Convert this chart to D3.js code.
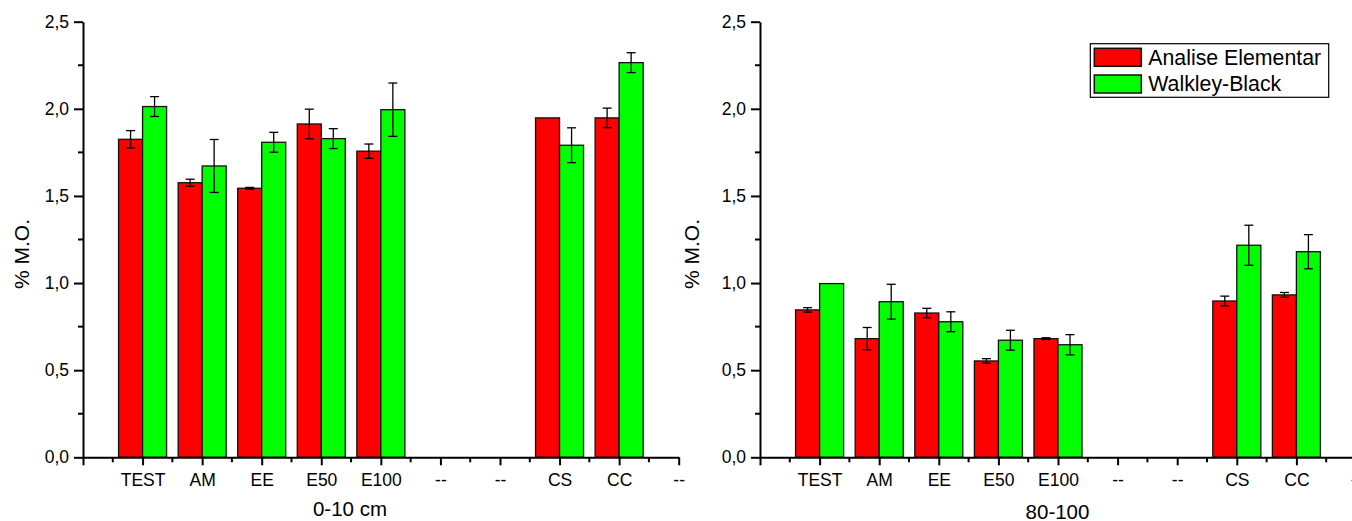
<!DOCTYPE html>
<html>
<head>
<meta charset="utf-8">
<script src="https://cdn.jsdelivr.net/npm/d3@7"></script>
<style>
  html, body { margin: 0; padding: 0; background: #fff; }
  svg { display: block; font-family: "Liberation Sans", Arial, sans-serif; }
</style>
</head>
<body>
<svg id="chart" width="1352" height="521"></svg>
<script>
// ---- data ----
const categories = ["TEST", "AM", "EE", "E50", "E100", "--", "--", "CS", "CC", "--"];
const seriesNames = ["Analise Elementar", "Walkley-Black"];
const yTicks = [0, 0.5, 1.0, 1.5, 2.0, 2.5];

// 0-10 cm
const ae0 = [1.825, 1.576, 1.544, 1.913, 1.757, null, null, 1.948, 1.948, null];
const ae0Err = [0.05, 0.02, 0.005, 0.085, 0.041, null, null, 0, 0.056, null];
const wb0 = [2.013, 1.672, 1.808, 1.829, 1.995, null, null, 1.791, 2.265, null];
const wb0Err = [0.057, 0.152, 0.057, 0.057, 0.153, null, null, 0.1, 0.057, null];

// 80-100
const ae80 = [0.846, 0.681, 0.828, 0.553, 0.681, null, null, 0.897, 0.932, null];
const ae80Err = [0.013, 0.064, 0.027, 0.013, 0.005, null, null, 0.028, 0.014, null];
const wb80 = [0.997, 0.893, 0.778, 0.672, 0.646, null, null, 1.217, 1.180, null];
const wb80Err = [0, 0.1, 0.057, 0.057, 0.058, null, null, 0.115, 0.098, null];

const colors = ["#ff0000", "#00ff00"];

const svg = d3.select("#chart");
const fmt = v => d3.format(".1f")(v).replace(".", ",");

function panel(opts) {
  const x = d3.scaleLinear().domain([0, 10]).range([opts.x0, opts.x1]);
  const y = d3.scaleLinear().domain([0, 2.5]).range([457.3, 21.7]);
  const g = svg.append("g");
  const bw = x(0.403) - x(0);

  const series = [
    { vals: opts.ae, errs: opts.aeErr, off: -1, color: colors[0] },
    { vals: opts.wb, errs: opts.wbErr, off: 0, color: colors[1] }
  ];

  series.forEach(s => {
    const data = s.vals.map((v, i) => ({ i: i + 1, v, e: s.errs[i] })).filter(d => d.v != null);
    g.selectAll(null).data(data).enter().append("rect")
      .attr("x", d => x(d.i) + s.off * bw)
      .attr("width", bw)
      .attr("y", d => y(d.v))
      .attr("height", d => y(0) - y(d.v))
      .attr("fill", s.color)
      .attr("stroke", "#111")
      .attr("stroke-width", 1.3);
    const eb = data.filter(d => d.e > 0);
    const cx = d => x(d.i) + s.off * bw + bw / 2;
    g.selectAll(null).data(eb).enter().append("line")
      .attr("x1", cx).attr("x2", cx)
      .attr("y1", d => y(d.v + d.e)).attr("y2", d => y(d.v - d.e))
      .attr("stroke", "#000").attr("stroke-width", 1.3);
    [1, -1].forEach(sg => {
      g.selectAll(null).data(eb).enter().append("line")
        .attr("x1", d => cx(d) - 4.5).attr("x2", d => cx(d) + 4.5)
        .attr("y1", d => y(d.v + sg * d.e)).attr("y2", d => y(d.v + sg * d.e))
        .attr("stroke", "#000").attr("stroke-width", 1.3);
    });
  });

  // x axis
  const xMajor = d3.range(0, 11);
  const xAxis = d3.axisBottom(x).tickValues(xMajor)
    .tickFormat(d => d === 0 ? "" : categories[d - 1])
    .tickSize(8).tickSizeOuter(0).tickPadding(8);
  const gx = g.append("g").attr("transform", `translate(0,${y(0)})`).call(xAxis);
  const xMinor = d3.range(0.5, 10, 1);
  gx.selectAll(".minor").data(xMinor).enter().append("line")
    .attr("x1", d => x(d)).attr("x2", d => x(d)).attr("y1", 0).attr("y2", 5)
    .attr("stroke", "#000").attr("stroke-width", 2);

  // y axis
  const yAxis = d3.axisLeft(y).tickValues(yTicks).tickFormat(fmt)
    .tickSize(9).tickSizeOuter(0).tickPadding(5);
  const gy = g.append("g").attr("transform", `translate(${opts.x0},0)`).call(yAxis);
  const yMinor = [0.25, 0.75, 1.25, 1.75, 2.25];
  gy.selectAll(".minor").data(yMinor).enter().append("line")
    .attr("x1", 0).attr("x2", -5).attr("y1", d => y(d)).attr("y2", d => y(d))
    .attr("stroke", "#000").attr("stroke-width", 2);

  [gx, gy].forEach(a => {
    a.select(".domain").attr("stroke", "#000").attr("stroke-width", 2);
    a.selectAll(".tick line").attr("stroke", "#000").attr("stroke-width", 2);
    a.selectAll(".tick text").attr("fill", "#000")
      .style("font-size", "17.5px").style("font-family", '"Liberation Sans", Arial, sans-serif');
  });

  // axis titles
  g.append("text")
    .attr("x", opts.titleX).attr("y", opts.titleY)
    .attr("text-anchor", "middle")
    .style("font-size", "20.5px")
    .text(opts.xTitle);
  g.append("text")
    .attr("transform", `translate(${opts.yTitleX},254) rotate(-90)`)
    .attr("text-anchor", "middle")
    .style("font-size", "21px")
    .text("% M.O.");
}

panel({ x0: 83, x1: 678.7, ae: ae0, aeErr: ae0Err, wb: wb0, wbErr: wb0Err,
        xTitle: "0-10 cm", titleX: 350, titleY: 516, yTitleX: 29.3 });
panel({ x0: 760, x1: 1356, ae: ae80, aeErr: ae80Err, wb: wb80, wbErr: wb80Err,
        xTitle: "80-100", titleX: 1057.5, titleY: 519, yTitleX: 699.3 });

// legend
const lg = svg.append("g");
lg.append("rect").attr("x", 1090.3).attr("y", 43.7).attr("width", 238.4).attr("height", 53.6)
  .attr("fill", "#fff").attr("stroke", "#000").attr("stroke-width", 1.2);
seriesNames.forEach((n, i) => {
  lg.append("rect").attr("x", 1094.3).attr("y", i === 0 ? 48.3 : 75)
    .attr("width", 47).attr("height", 18)
    .attr("fill", colors[i]).attr("stroke", "#111").attr("stroke-width", 1.5);
  lg.append("text").attr("x", 1148.3).attr("y", i === 0 ? 65.3 : 91)
    .style("font-size", "21.3px").text(n);
});
</script>
</body>
</html>
